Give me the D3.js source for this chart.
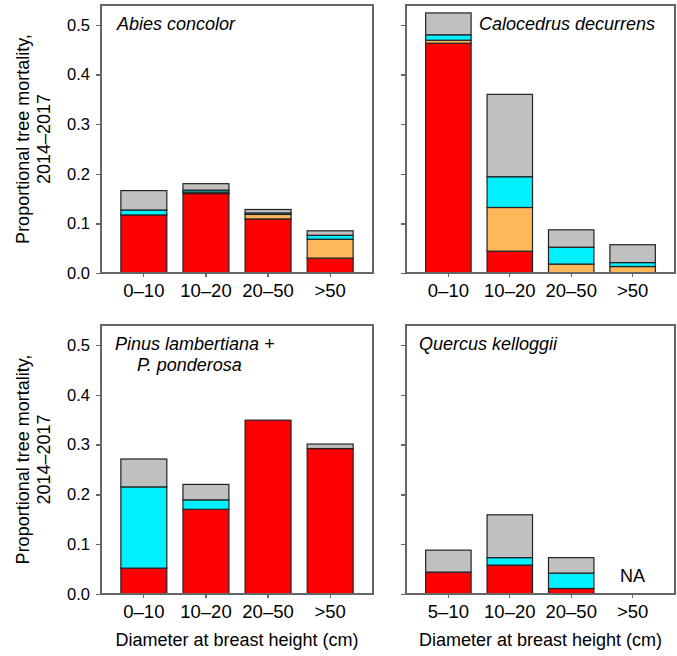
<!DOCTYPE html>
<meta charset="utf-8">
<style>
body { margin: 0; background: #fff; }
svg text { font-family: "Liberation Sans", Arial, sans-serif; fill: #000; }
.axis path, .axis line { stroke: #666; stroke-width: 1.3px; shape-rendering: crispEdges; }
.frame { fill: none; stroke: #666; stroke-width: 1.3px; shape-rendering: crispEdges; }
.seg { stroke: #222; stroke-width: 1.2px; }
</style>
<body>
<div id="chart"></div>
<script src="https://d3js.org/d3.v7.min.js"></script>
<script>

// panel titles and diameter classes
var species = ["Abies concolor", "Calocedrus decurrens", "Pinus lambertiana +|P. ponderosa", "Quercus kelloggii"];
var dbhClasses = ["0–10", "10–20", "20–50", ">50"];
var quercusClasses = ["5–10", "10–20", "20–50", ">50"];
var yTicks = [0, 0.1, 0.2, 0.3, 0.4, 0.5];

// stacked layers, bottom to top (one row per species, one value per class)
var redVals    = [[0.117, 0.160, 0.109, 0.030], [0.463, 0.044, 0.000, 0.000], [0.052, 0.170, 0.349, 0.292], [0.044, 0.058, 0.011, 0]];
var orangeVals = [[0.000, 0.003, 0.009, 0.038], [0.006, 0.088, 0.018, 0.013], [0.000, 0.000, 0.000, 0.000], [0.000, 0.000, 0.000, 0]];
var cyanVals   = [[0.010, 0.004, 0.003, 0.008], [0.011, 0.062, 0.034, 0.008], [0.163, 0.019, 0.000, 0.000], [0.000, 0.015, 0.031, 0]];
var greyVals   = [[0.039, 0.013, 0.007, 0.009], [0.044, 0.166, 0.035, 0.036], [0.056, 0.031, 0.000, 0.009], [0.044, 0.086, 0.031, 0]];
var missing    = [[], [], [], [">50"]];   // classes shown as NA

var layers = ["red", "orange", "cyan", "grey"];
var colors = {red: "#ff0000", orange: "#ffb75a", cyan: "#00f0ff", grey: "#c0c0c0"};

var W = 677, H = 656;

// panel boxes: left, right, top, bottom (x-axis)
var panels = [
    {x0: 101, x1: 373, y0: 5,   y1: 273},
    {x0: 406, x1: 675, y0: 5,   y1: 273},
    {x0: 101, x1: 373, y0: 325, y1: 594},
    {x0: 406, x1: 675, y0: 325, y1: 594}
];

var svg = d3.select("#chart").append("svg")
    .attr("width", W)
    .attr("height", H);

panels.forEach(function(p, i){
    var cats = i == 3 ? quercusClasses : dbhClasses;

    var x = d3.scaleBand()
        .domain(cats)
        .range([p.x0, p.x1])
        .paddingInner(0.26)
        .paddingOuter(0.32);

    var y = d3.scaleLinear()
        .domain([0, 0.54])
        .range([p.y1, p.y0]);

    var rows = cats.map(function(c, j){
        return {cat: c, red: redVals[i][j], orange: orangeVals[i][j], cyan: cyanVals[i][j], grey: greyVals[i][j]};
    }).filter(function(r){ return missing[i].indexOf(r.cat) < 0; });

    var stacked = d3.stack().keys(layers)(rows);

    var g = svg.append("g").attr("class", "panel");

    stacked.forEach(function(layer){
        g.selectAll(".seg-" + layer.key)
            .data(layer.filter(function(d){ return d[1] - d[0] > 0.0001; }))
            .enter().append("rect")
            .attr("class", "seg seg-" + layer.key)
            .attr("x", function(d){ return x(d.data.cat); })
            .attr("width", x.bandwidth())
            .attr("y", function(d){ return y(d[1]); })
            .attr("height", function(d){ return y(d[0]) - y(d[1]); })
            .attr("fill", colors[layer.key]);
    });

    missing[i].forEach(function(c){
        g.append("text")
            .attr("x", x(c) + x.bandwidth()/2)
            .attr("y", p.y1 - 12)
            .attr("text-anchor", "middle")
            .attr("font-size", 18)
            .text("NA");
    });

    // frame
    g.append("rect")
        .attr("class", "frame")
        .attr("x", p.x0).attr("y", p.y0)
        .attr("width", p.x1 - p.x0).attr("height", p.y1 - p.y0);

    // axes
    var yAxis = d3.axisLeft(y).tickValues(yTicks).tickFormat(d3.format(".1f")).tickSize(5).tickPadding(6);
    if (i % 2 == 1) yAxis.tickFormat("");
    g.append("g")
        .attr("class", "axis")
        .attr("transform", "translate(" + p.x0 + ",0)")
        .call(yAxis)
        .call(function(a){ a.select(".domain").remove(); })
        .selectAll("text").attr("font-size", 16.5);

    g.append("g")
        .attr("class", "axis")
        .attr("transform", "translate(0," + p.y1 + ")")
        .call(d3.axisBottom(x).tickSize(4).tickPadding(7))
        .call(function(a){ a.select(".domain").remove(); })
        .selectAll("text").attr("font-size", 18.5);

    // species title, italic
    var lines = species[i].split("|");
    var tx = [117, 479, 115, 419][i];
    var t = g.append("text")
        .attr("font-style", "italic")
        .attr("font-size", 18)
        .attr("x", tx)
        .attr("y", p.y0 + 25);
    t.append("tspan").text(lines[0]);
    if (lines[1]) {
        t.append("tspan").attr("x", tx + 22).attr("dy", 21).text(lines[1]);
    }

    // axis titles
    if (i >= 2) {
        g.append("text")
            .attr("x", (p.x0 + p.x1)/2)
            .attr("y", p.y1 + 52)
            .attr("text-anchor", "middle")
            .attr("font-size", 18)
            .text("Diameter at breast height (cm)");
    }
    if (i % 2 == 0) {
        var cy = (p.y0 + p.y1)/2;
        var yt = g.append("text")
            .attr("transform", "translate(29," + cy + ") rotate(-90)")
            .attr("text-anchor", "middle")
            .attr("font-size", 18);
        yt.append("tspan").attr("x", 0).attr("y", 0).text("Proportional tree mortality,");
        yt.append("tspan").attr("x", 0).attr("y", 21).text("2014–2017");
    }
});

</script>
